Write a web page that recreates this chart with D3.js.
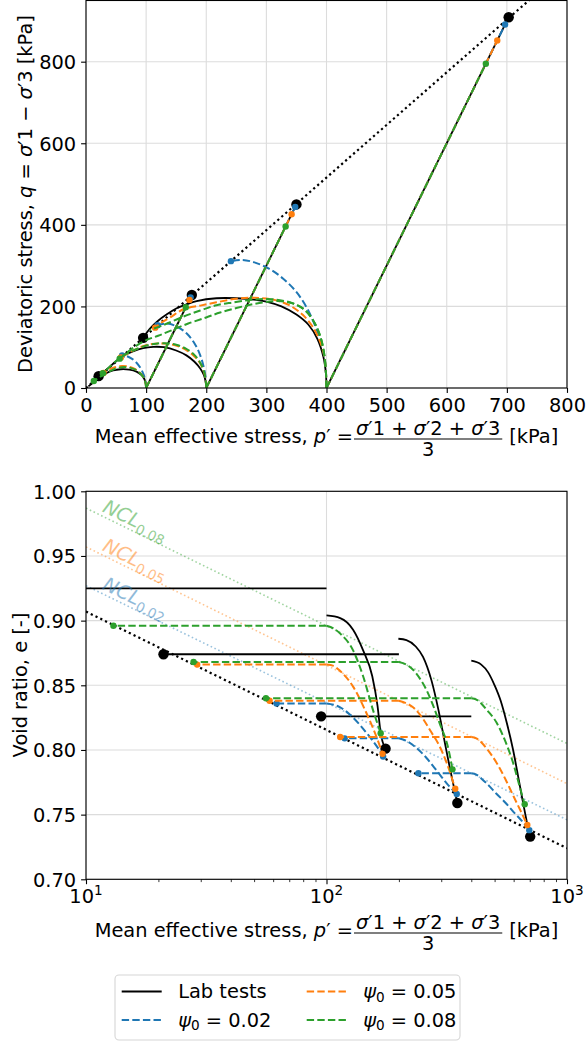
<!DOCTYPE html>
<html lang="en">
<title>Triaxial tests: lab vs model</title>
<meta charset="UTF-8">
<script src="https://d3js.org/d3.v7.min.js"></script>
<style>
body {margin:0; background:#fff;}
svg {font-family: "DejaVu Sans", sans-serif; font-size: 19.4px;}
.grid line {stroke:#dcdcdc; stroke-width:1.1;}
.lab {fill:none; stroke:#000; stroke-width:1.8;}
.model {fill:none; stroke-width:2; stroke-dasharray:7.4,3.2;}
.csl {fill:none; stroke:#000; stroke-width:2.2; stroke-dasharray:2.2,3.1;}
.ncl {fill:none; stroke-width:1.6; stroke-dasharray:1.6,2.6; opacity:0.45;}
</style>
<body>
<svg id="chart" width="586" height="1044"></svg>
<script>
// ---- tick values
var pTicks = [0, 100, 200, 300, 400, 500, 600, 700, 800];
var qTicks = [0, 200, 400, 600, 800];
var logMajor = [10, 100, 1000];
var logMinor = [20, 30, 40, 50, 60, 70, 80, 90, 200, 300, 400, 500, 600, 700, 800, 900];
var eTicks = [0.70, 0.75, 0.80, 0.85, 0.90, 0.95, 1.00];

// ---- series
var seriesNames = ["Lab tests", "ψ0 = 0.02", "ψ0 = 0.05", "ψ0 = 0.08"];
var colors = ["#000000", "#1f77b4", "#ff7f0e", "#2ca02c"];

// critical state line (p, q) and (p, e)
var cslQ = [[0, 0], [800, 1032]];
var cslE = [[10, 0.907], [1000, 0.724]];
// normal consolidation lines (p, e)
var nclBlue = [[10, 0.927], [1000, 0.746]];
var nclOrange = [[10, 0.957], [1000, 0.774]];
var nclGreen = [[10, 0.987], [1000, 0.805]];
var nclNames = ["0.02", "0.05", "0.08"];

// ---- lab tests, stress path (p, q)
var labUndQ = [
  [[100,0],[99.5,10],[97,22],[92,32],[84,40],[72,45],[58,46],[45,43],[32,35],[20,24],[10,11],[4,4]],
  [[200,0],[199,15],[196,32],[190,48],[180,65],[167,80],[150,92],[130,100],[112,101],[95,98],[78,90],[62,79],[48,63],[35,46],[21,29]],
  [[400,0],[399,35],[395,75],[385,120],[370,155],[350,180],[325,200],[300,212],[283,216],[250,220],[217,220],[184,213],[167,205],[150,195],[134,180],[120,165],[106,145],[95,123]]
];
var labDrQ = [[[100,0],[176,228]], [[200,0],[350,450]], [[400,0],[703,909]]];
// lab tests, void ratio (p, e)
var labUndE = [[[100,0.925],[4,0.925]], [[200,0.874],[21,0.874]], [[400,0.826],[95,0.826]]];
var labDrE = [
  [[100,0.904],[114,0.902],[129,0.893],[142,0.877],[155,0.857],[163,0.834],[168,0.813],[176,0.801]],
  [[199,0.886],[215,0.885],[235,0.880],[252,0.872],[273,0.854],[292,0.831],[311,0.805],[325,0.787],[338,0.772],[350,0.759]],
  [[400,0.869],[440,0.866],[470,0.860],[500,0.850],[530,0.838],[560,0.822],[597,0.800],[630,0.777],[660,0.757],[685,0.742],[703,0.733]]
];

// ---- model psi0 = 0.02
var blueUndQ = [
  [[100,0],[99,15],[96,32],[91,48],[84,62],[76,72],[68,78],[60,80]],
  [[200,0],[199,25],[196,50],[190,80],[181,108],[168,133],[152,150],[135,158],[119,154]],
  [[400,0],[399,40],[396,80],[389,120],[379,160],[366,200],[349,237],[328,268],[305,292],[280,308],[260,314],[241,311]]
];
var blueDrQ = [[[100,0],[174,222]], [[200,0],[348,444]], [[400,0],[697,891]]];
var blueUndE = [[[100,0.836],[62,0.836]], [[200,0.809],[119,0.809]], [[400,0.782],[241,0.782]]];
var blueDrE = [
  [[100,0.836],[107,0.835],[114,0.833],[129,0.825],[147,0.813],[163,0.802],[172,0.795]],
  [[200,0.809],[215,0.807],[235,0.802],[260,0.794],[290,0.783],[320,0.773],[348,0.766]],
  [[400,0.782],[420,0.781],[440,0.778],[464,0.774],[510,0.766],[556,0.759],[600,0.752],[650,0.745],[697,0.738]]
];

// ---- model psi0 = 0.05
var orangeUndQ = [
  [[100,0],[99,12],[96,25],[90,37],[82,46],[72,52],[60,54],[48,51],[38,45],[29,37]],
  [[200,0],[199,20],[196,40],[190,60],[180,78],[167,93],[150,104],[130,109],[110,108],[92,101],[75,89],[58,75]],
  [[400,0],[399,40],[396,80],[389,115],[377,150],[360,180],[338,203],[310,217],[280,221],[250,219],[217,210],[190,202],[162,193],[140,173],[125,160],[115,148]]
];
var orangeDrQ = [[[100,0],[172,216]], [[200,0],[342,426]], [[400,0],[684,852]]];
var orangeUndE = [[[100,0.866],[29,0.866]], [[200,0.838],[58,0.838]], [[400,0.810],[114,0.810]]];
var orangeDrE = [
  [[100,0.866],[107,0.865],[114,0.861],[129,0.849],[147,0.828],[163,0.808],[171,0.797]],
  [[200,0.838],[215,0.836],[229,0.833],[250,0.825],[270,0.815],[295,0.803],[316,0.790],[343,0.770]],
  [[400,0.810],[420,0.809],[440,0.806],[464,0.801],[510,0.790],[556,0.777],[600,0.764],[645,0.752],[684,0.742]]
];

// ---- model psi0 = 0.08
var greenUndQ = [
  [[100,0],[99,12],[96,25],[90,36],[82,45],[72,50],[60,51],[48,47],[36,38],[24,28],[13,17]],
  [[200,0],[199,20],[196,42],[190,62],[181,80],[168,95],[150,106],[130,110],[110,107],[90,99],[70,86],[50,66],[28,36]],
  [[400,0],[399,40],[396,85],[390,125],[380,160],[365,190],[345,207],[320,213],[295,210],[273,204],[250,196],[223,185],[200,173],[170,158],[140,140],[120,128],[101,118],[80,100],[68,87],[56,72]]
];
var greenExtraQ = [[400,0],[399,40],[396,85],[390,125],[380,160],[365,190],[345,207],[320,216],[295,218],[273,216],[245,210],[217,203],[190,190],[162,175],[130,155],[106,142]];
var greenDrQ = [[[100,0],[166,198]], [[200,0],[332,396]], [[400,0],[665,795]]];
var greenUndE = [[[100,0.896],[13,0.896]], [[200,0.868],[28,0.868]], [[400,0.840],[56,0.840]]];
var greenDrE = [
  [[100,0.896],[107,0.894],[114,0.890],[129,0.877],[142,0.857],[156,0.831],[168,0.813]],
  [[200,0.868],[215,0.866],[229,0.862],[245,0.855],[261,0.846],[278,0.834],[295,0.821],[322,0.800],[334,0.785]],
  [[400,0.840],[420,0.839],[440,0.836],[464,0.831],[510,0.821],[556,0.806],[597,0.790],[635,0.772],[667,0.758]]
];

var svg = d3.select("#chart");

// ---- scales
var xQ = d3.scaleLinear().domain([0, 800]).range([86, 567]);
var yQ = d3.scaleLinear().domain([0, 950]).range([388, 0.5]);
var xE = d3.scaleLog().domain([10, 1000]).range([86, 567]);
var yE = d3.scaleLinear().domain([0.70, 1.00]).range([879.3, 491.3]);

var defs = svg.append("defs");
defs.append("clipPath").attr("id", "clipTop").append("rect")
  .attr("x", 86).attr("y", 0.5).attr("width", 481).attr("height", 387.5);
defs.append("clipPath").attr("id", "clipBot").append("rect")
  .attr("x", 86).attr("y", 491.3).attr("width", 481).attr("height", 388);

// ---- grids
var gridTop = svg.append("g").attr("class", "grid");
gridTop.selectAll("line.gx").data(pTicks).enter().append("line")
  .attr("x1", d => xQ(d)).attr("x2", d => xQ(d)).attr("y1", yQ.range()[0]).attr("y2", yQ.range()[1]);
gridTop.selectAll("line.gy").data(qTicks).enter().append("line")
  .attr("x1", 86).attr("x2", 567).attr("y1", d => yQ(d)).attr("y2", d => yQ(d));

var gridBot = svg.append("g").attr("class", "grid");
gridBot.selectAll("line.gx").data(logMajor).enter().append("line")
  .attr("x1", d => xE(d)).attr("x2", d => xE(d)).attr("y1", yE.range()[0]).attr("y2", yE.range()[1]);
gridBot.selectAll("line.gy").data(eTicks).enter().append("line")
  .attr("x1", 86).attr("x2", 567).attr("y1", d => yE(d)).attr("y2", d => yE(d));

// ---- line generators
var smoothQ = d3.line().x(d => xQ(d[0])).y(d => yQ(d[1])).curve(d3.curveCatmullRom.alpha(0.5));
var straightQ = d3.line().x(d => xQ(d[0])).y(d => yQ(d[1]));
var smoothE = d3.line().x(d => xE(d[0])).y(d => yE(d[1])).curve(d3.curveMonotoneX);
var straightE = d3.line().x(d => xE(d[0])).y(d => yE(d[1]));

var gTop = svg.append("g").attr("clip-path", "url(#clipTop)");
var gBot = svg.append("g").attr("clip-path", "url(#clipBot)");

// ---- NCLs and CSL (bottom)
[nclBlue, nclOrange, nclGreen].forEach(function(l, i) {
  gBot.append("path").attr("class", "ncl").attr("stroke", colors[i + 1]).attr("d", straightE(l));
});
gBot.append("path").attr("class", "csl").attr("d", straightE(cslE));
gTop.append("path").attr("class", "csl").attr("d", straightQ(cslQ));

function drawSet(und, dr, undE, drE, cls, color) {
  und.forEach(p => gTop.append("path").attr("class", cls).attr("stroke", color).attr("d", smoothQ(p)));
  dr.forEach(p => gTop.append("path").attr("class", cls).attr("stroke", color).attr("d", straightQ(p)));
  undE.forEach(p => gBot.append("path").attr("class", cls).attr("stroke", color).attr("d", straightE(p)));
  drE.forEach(p => gBot.append("path").attr("class", cls).attr("stroke", color).attr("d", smoothE(p)));
}
function drawEnds(paths, g, x, y, r, color) {
  g.selectAll(null).data(paths.map(p => p[p.length - 1])).enter().append("circle")
    .attr("cx", d => x(d[0])).attr("cy", d => y(d[1])).attr("r", r).attr("fill", color);
}

// lab tests
drawSet(labUndQ, labDrQ, labUndE, labDrE, "lab", "#000");
drawEnds(labUndQ.slice(1).concat(labDrQ), gTop, xQ, yQ, 5.2, "#000");
drawEnds(labUndE.slice(1).concat(labDrE), gBot, xE, yE, 5.2, "#000");

// model runs
drawSet(blueUndQ, blueDrQ, blueUndE, blueDrE, "model", colors[1]);
drawEnds(blueUndQ.concat(blueDrQ), gTop, xQ, yQ, 3.2, colors[1]);
drawEnds(blueUndE.concat(blueDrE), gBot, xE, yE, 3.2, colors[1]);

drawSet(orangeUndQ, orangeDrQ, orangeUndE, orangeDrE, "model", colors[2]);
drawEnds(orangeUndQ.concat(orangeDrQ), gTop, xQ, yQ, 3.2, colors[2]);
drawEnds(orangeUndE.concat(orangeDrE), gBot, xE, yE, 3.2, colors[2]);

drawSet(greenUndQ, greenDrQ, greenUndE, greenDrE, "model", colors[3]);
gTop.append("path").attr("class", "model").attr("stroke", colors[3]).attr("d", smoothQ(greenExtraQ));
drawEnds(greenUndQ.concat(greenDrQ), gTop, xQ, yQ, 3.2, colors[3]);
drawEnds(greenUndE.concat(greenDrE), gBot, xE, yE, 3.2, colors[3]);

// ---- NCL labels
[nclBlue, nclOrange, nclGreen].forEach(function(l, i) {
  var pl = 11.4;
  var t = Math.log10(pl / l[0][0]) / Math.log10(l[1][0] / l[0][0]);
  var el = l[0][1] + t * (l[1][1] - l[0][1]);
  var ang = Math.atan2(yE(l[1][1]) - yE(l[0][1]), xE(l[1][0]) - xE(l[0][0])) * 180 / Math.PI;
  var txt = svg.append("text")
    .attr("transform", "translate(" + xE(pl) + "," + yE(el) + ") rotate(" + ang + ")")
    .attr("y", -4).attr("fill", colors[i + 1]).attr("opacity", 0.5);
  txt.append("tspan").style("font-style", "italic").text("NCL");
  txt.append("tspan").attr("font-size", "13.6px").attr("dy", 4.5).text(nclNames[i]);
});

// ---- axes
function styleAxis(g) {
  g.select(".domain").remove();
  g.attr("font-family", null).attr("font-size", null);
  g.selectAll(".tick line").attr("stroke", "#000").attr("stroke-width", 1.1);
  g.selectAll(".tick text").attr("fill", "#000");
}
svg.append("g").attr("transform", "translate(0,388)")
  .call(d3.axisBottom(xQ).tickValues(pTicks).tickSize(4.9).tickPadding(4.9).tickFormat(d3.format("d")))
  .call(styleAxis);
svg.append("g").attr("transform", "translate(86,0)")
  .call(d3.axisLeft(yQ).tickValues(qTicks).tickSize(4.9).tickPadding(4.9).tickFormat(d3.format("d")))
  .call(styleAxis).selectAll(".tick text").attr("dy", "0.36em");

svg.append("g").attr("transform", "translate(0,879.3)")
  .call(d3.axisBottom(xE).tickValues(logMajor).tickSize(4.9).tickFormat(""))
  .call(styleAxis);
svg.append("g").attr("transform", "translate(0,879.3)")
  .call(d3.axisBottom(xE).tickValues(logMinor).tickSize(2.8).tickFormat(""))
  .call(styleAxis).selectAll(".tick line").attr("stroke-width", 0.8);
logMajor.forEach(function(v) {
  var t = svg.append("text").attr("x", xE(v)).attr("y", 879.3 + 23.4).attr("text-anchor", "middle");
  t.append("tspan").text("10");
  t.append("tspan").attr("font-size", "13.6px").attr("dy", -8).text(Math.round(Math.log10(v)));
});
svg.append("g").attr("transform", "translate(86,0)")
  .call(d3.axisLeft(yE).tickValues(eTicks).tickSize(4.9).tickPadding(4.9).tickFormat(d3.format(".2f")))
  .call(styleAxis).selectAll(".tick text").attr("dy", "0.36em");

// ---- spines
[yQ, yE].forEach(function(s) {
  var r = s.range();
  svg.append("rect").attr("x", 86).attr("y", r[1]).attr("width", 481).attr("height", r[0] - r[1])
    .attr("fill", "none").attr("stroke", "#000").attr("stroke-width", 1.1);
});

// ---- axis labels
function xMathLabel(cx, B) {
  var g = svg.append("g");
  var t1 = g.append("text").attr("x", 0).attr("y", B);
  t1.append("tspan").text("Mean effective stress, ");
  t1.append("tspan").style("font-style", "italic").text("p");
  t1.append("tspan").text("′ = ");
  var w1 = t1.node().getComputedTextLength();
  var num = g.append("text").attr("y", B - 8);
  [["σ", 1], ["′1 + ", 0], ["σ", 1], ["′2 + ", 0], ["σ", 1], ["′3", 0]].forEach(function(s) {
    num.append("tspan").style("font-style", s[1] ? "italic" : "normal").text(s[0]);
  });
  var wn = num.node().getComputedTextLength();
  var x0 = w1 + 1;
  num.attr("x", x0 + 2);
  g.append("line").attr("x1", x0).attr("x2", x0 + wn + 4).attr("y1", B - 4).attr("y2", B - 4)
    .attr("stroke", "#000").attr("stroke-width", 1.1);
  g.append("text").attr("x", x0 + 2 + wn / 2).attr("y", B + 12.5).attr("text-anchor", "middle").text("3");
  var t3 = g.append("text").attr("x", x0 + wn + 11).attr("y", B).text("[kPa]");
  var total = x0 + wn + 11 + t3.node().getComputedTextLength();
  g.attr("transform", "translate(" + (cx - total / 2) + ",0)");
}
xMathLabel(326.5, 443);
xMathLabel(326.5, 937);

var yl1 = svg.append("text").attr("transform", "translate(32,194) rotate(-90)").attr("text-anchor", "middle");
yl1.append("tspan").text("Deviatoric stress, ");
yl1.append("tspan").style("font-style", "italic").text("q");
yl1.append("tspan").text(" = ");
yl1.append("tspan").style("font-style", "italic").text("σ");
yl1.append("tspan").text("′1 − ");
yl1.append("tspan").style("font-style", "italic").text("σ");
yl1.append("tspan").text("′3 [kPa]");

svg.append("text").attr("transform", "translate(26.5,685) rotate(-90)").attr("text-anchor", "middle")
  .text("Void ratio, e [-]");

// ---- legend
var leg = svg.append("g");
leg.append("rect").attr("x", 115).attr("y", 975).attr("width", 345).attr("height", 65).attr("rx", 4)
  .attr("fill", "#fff").attr("stroke", "#d6d6d6").attr("stroke-width", 1.1);
var legPos = [[121.7, 991.5], [121.7, 1020], [306.7, 991.5], [306.7, 1020]];
seriesNames.forEach(function(name, i) {
  var p = legPos[i];
  leg.append("line").attr("x1", p[0]).attr("x2", p[0] + 40).attr("y1", p[1]).attr("y2", p[1])
    .attr("class", i ? "model" : "lab").attr("stroke", colors[i]);
  var t = leg.append("text").attr("x", p[0] + 56.5).attr("y", p[1] + 6.8);
  if (i === 0) { t.text(name); return; }
  t.append("tspan").style("font-style", "italic").text("ψ");
  t.append("tspan").attr("font-size", "13.6px").attr("dy", 3.5).text("0");
  t.append("tspan").attr("dy", -3.5).text(name.slice(2));
});
</script>
</body>
</html>
